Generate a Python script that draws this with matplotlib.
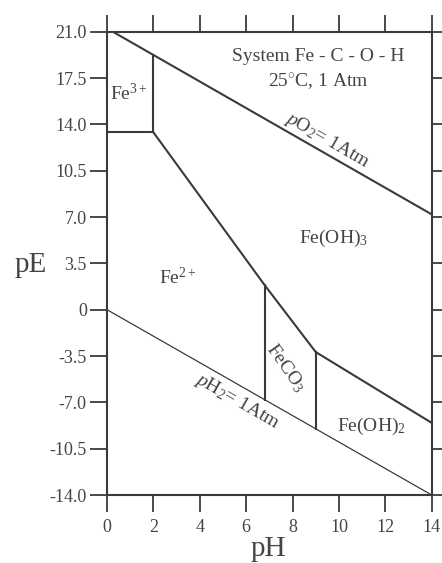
import matplotlib
matplotlib.use("Agg")
import matplotlib.pyplot as plt

plt.rcParams['font.family'] = ['Liberation Serif', 'DejaVu Serif']
plt.rcParams['mathtext.fontset'] = 'custom'
plt.rcParams['mathtext.rm'] = 'Liberation Serif'
plt.rcParams['mathtext.it'] = 'Liberation Serif:italic'
plt.rcParams['mathtext.bf'] = 'Liberation Serif:bold'

# Data
x_ticks = [0, 2, 4, 6, 8, 10, 12, 14]
y_ticks = [21.0, 17.5, 14.0, 10.5, 7.0, 3.5, 0, -3.5, -7.0, -10.5, -14.0]
y_tick_labels = ["21.0", "17.5", "14.0", "10.5", "7.0", "3.5", "0", "-3.5", "-7.0", "-10.5", "-14.0"]

po2_ph = [0.25, 14.0]
po2_pe = [21.0, 7.2]
h2_ph = [0.0, 14.0]
h2_pe = [0.0, -14.0]
fe3_fe2_ph = [0.0, 2.0]
fe3_fe2_pe = [13.4, 13.4]
fe3_vert_ph = [2.0, 2.0]
fe3_vert_pe = [13.4, 19.25]
fe2_upper_ph = [2.0, 6.8, 9.0, 14.0]
fe2_upper_pe = [13.4, 1.85, -3.2, -8.55]
feco3_left_ph = [6.8, 6.8]
feco3_left_pe = [1.85, -6.8]
feco3_right_ph = [9.0, 9.0]
feco3_right_pe = [-3.2, -9.0]

W, H = 442, 563
fig = plt.figure(figsize=(W/100, H/100), dpi=100)
ax = fig.add_axes([107/W, 1-495/H, (431.7-107)/W, (495-31.7)/H])
ax.set_xlim(0, 14)
ax.set_ylim(-14, 21)

lc = '#3a3a3a'
tc = '#444444'
lw = 1.5
ax.plot(po2_ph, po2_pe, color=lc, lw=lw)
ax.plot(h2_ph, h2_pe, color=lc, lw=0.9)
ax.plot(fe3_fe2_ph, fe3_fe2_pe, color=lc, lw=lw)
ax.plot(fe3_vert_ph, fe3_vert_pe, color=lc, lw=lw)
ax.plot(fe2_upper_ph, fe2_upper_pe, color=lc, lw=lw)
ax.plot(feco3_left_ph, feco3_left_pe, color=lc, lw=lw)
ax.plot(feco3_right_ph, feco3_right_pe, color=lc, lw=lw)

for s in ax.spines.values():
    s.set_color(lc)
    s.set_linewidth(1.5)

ax.set_xticks(x_ticks)
ax.set_yticks(y_ticks)
ax.set_yticklabels(y_tick_labels)
ax.tick_params(direction='out', length=12.5, width=1.3, color=lc, labelcolor=tc,
               labelsize=13, top=True, right=True, labeltop=False, labelright=False)
ax.tick_params(axis='x', pad=5)
ax.tick_params(axis='y', pad=2)

fs = 14
ax.text(9.1, 19.1, "System Fe - C - O - H", ha='center', va='center', fontsize=fs, color=tc)
ax.text(9.1, 17.3, r"25$^{\circ}$C, 1 Atm", ha='center', va='center', fontsize=fs, color=tc)
ax.text(0.95, 16.3, r"Fe$^{3+}$", ha='center', va='center', fontsize=fs, color=tc)
ax.text(3.05, 2.4, r"Fe$^{2+}$", ha='center', va='center', fontsize=fs, color=tc)
ax.text(9.75, 5.4, r"Fe(OH)$_3$", ha='center', va='center', fontsize=fs, color=tc)
ax.text(11.4, -8.8, r"Fe(OH)$_2$", ha='center', va='center', fontsize=fs, color=tc)
ax.text(7.69, -4.4, r"FeCO$_3$", ha='center', va='center', fontsize=fs, color=tc, rotation=-55)
ax.text(9.5, 12.8, r"$\it{p}$O$_2$= 1Atm", ha='center', va='center', fontsize=fs, color=tc, rotation=-29.8)
ax.text(5.6, -6.95, r"$\it{p}$H$_2$= 1Atm", ha='center', va='center', fontsize=fs, color=tc, rotation=-29.8)

fig.text(31/W, 1-265/H, "pE", ha='center', va='center', fontsize=21, color=tc)
fig.text(268/W, 1-549/H, "pH", ha='center', va='center', fontsize=21, color=tc)

fig.savefig("out.png", dpi=100)
